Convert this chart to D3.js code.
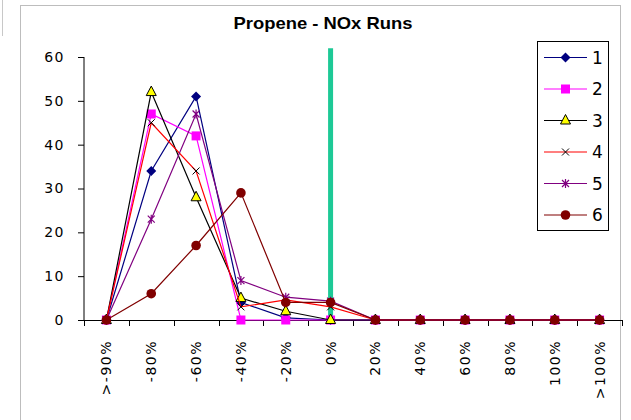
<!DOCTYPE html>
<html><head><meta charset="utf-8">
<script src="https://cdn.jsdelivr.net/npm/d3@7/dist/d3.min.js"></script>
<style>
html,body{margin:0;padding:0;background:#fff;}
svg{display:block;}
</style></head>
<body>
<svg id="chart" width="631" height="420"></svg>
<script>
const categories = [">-90%","-80%","-60%","-40%","-20%","0%","20%","40%","60%","80%","100%",">100%"];
const seriesNames = ["1","2","3","4","5","6"];
const s1 = [0,34,51,4,0.5,0,0,0,0,0,0,0];
const s2 = [0,47,42,0,0,0,0,0,0,0,0,0];
const s3 = [0,52,28,5,2,0,0,0,0,0,0,0];
const s4 = [0,45,34,3,4.6,3,0,0,0,0,0,0];
const s5 = [0,23,47,9,5.2,4.3,0,0,0,0,0,0];
const s6 = [0,6,17,29,4,4,0,0,0,0,0,0];
const yTicks = [0,10,20,30,40,50,60];
const markerCategory = "0%";
const markerLine = [0, 62];
const chartTitle = "Propene - NOx Runs";

const allSeries = [s1,s2,s3,s4,s5,s6];
const styles = [
  {line:"#000080", marker:"diamond", fill:"#000080", stroke:"#000080"},
  {line:"#ff00ff", marker:"square", fill:"#ff00ff", stroke:"#ff00ff"},
  {line:"#000000", marker:"triangle", fill:"#ffff00", stroke:"#000000"},
  {line:"#ff0000", marker:"x", fill:"none", stroke:"#000000"},
  {line:"#800080", marker:"star", fill:"none", stroke:"#800080"},
  {line:"#800000", marker:"circle", fill:"#800000", stroke:"#800000"}
];

const svg = d3.select("#chart");
// outer frame
svg.append("line").attr("x1",2.5).attr("x2",2.5).attr("y1",0).attr("y2",36)
  .attr("stroke","#c8c8c8").attr("stroke-width",1);
svg.append("rect").attr("x",20.5).attr("y",5.5).attr("width",600).attr("height",430)
  .attr("fill","#fff").attr("stroke","#bdbdbd").attr("stroke-width",1);

svg.append("text").attr("x",323).attr("y",29).attr("text-anchor","middle")
  .attr("font-family","Liberation Sans, Arial, sans-serif").attr("font-weight","bold")
  .attr("font-size",17).attr("textLength",179).attr("lengthAdjust","spacingAndGlyphs")
  .text(chartTitle);

const x = d3.scaleBand().domain(categories).range([84,622]);
const y = d3.scaleLinear().domain([0,60]).range([320,57]);
const cx = c => x(c) + x.bandwidth()/2;

// axes
const yAxis = svg.append("g").attr("transform","translate(84,0)")
  .call(d3.axisLeft(y).tickValues(yTicks).tickSize(6).tickPadding(13).tickFormat(d3.format("d")));
yAxis.select(".domain").attr("d", `M-0,${y(60)}V${y(0)}`);
yAxis.selectAll("text").attr("font-family","DejaVu Sans, sans-serif").attr("font-size",14)
  .attr("letter-spacing","1.5px").attr("fill","#000");

const xAxisG = svg.append("g").attr("transform","translate(0,320)");
xAxisG.append("line").attr("x1",84).attr("x2",622).attr("y1",0.5).attr("y2",0.5).attr("stroke","#000");
const bounds = categories.map(c => x(c)).concat([x.range()[1]]);
xAxisG.selectAll("line.tk").data(bounds).enter().append("line").attr("class","tk")
  .attr("x1",d=>Math.round(d)+0.5).attr("x2",d=>Math.round(d)+0.5).attr("y1",0).attr("y2",6).attr("stroke","#000");
xAxisG.selectAll("text").data(categories).enter().append("text")
  .attr("transform", d => `translate(${cx(d)},20) rotate(-90)`)
  .attr("text-anchor","end").attr("dy","0.36em")
  .attr("font-family","DejaVu Sans, sans-serif").attr("font-size",14).attr("letter-spacing","1.5px")
  .text(d => d);

// green reference line at 0%
svg.append("line").attr("x1",cx(markerCategory)).attr("x2",cx(markerCategory))
  .attr("y1",y(markerLine[0])).attr("y2",y(markerLine[1]))
  .attr("stroke","#1dc996").attr("stroke-width",5);

function drawMarker(g, type, px, py, st) {
  if (type === "diamond") {
    g.append("path").attr("d",`M${px},${py-5}L${px+5},${py}L${px},${py+5}L${px-5},${py}Z`).attr("fill",st.fill);
  } else if (type === "square") {
    g.append("rect").attr("x",px-4.5).attr("y",py-4.5).attr("width",9).attr("height",9).attr("fill",st.fill);
  } else if (type === "triangle") {
    g.append("path").attr("d",`M${px},${py-6}L${px+5},${py+3.5}L${px-5},${py+3.5}Z`).attr("fill",st.fill).attr("stroke",st.stroke).attr("stroke-width",1);
  } else if (type === "x") {
    g.append("path").attr("d",`M${px-3.5},${py-3.5}L${px+3.5},${py+3.5}M${px-3.5},${py+3.5}L${px+3.5},${py-3.5}`).attr("stroke",st.stroke).attr("stroke-width",1);
  } else if (type === "star") {
    g.append("path").attr("d",`M${px-3.5},${py-3.5}L${px+3.5},${py+3.5}M${px-3.5},${py+3.5}L${px+3.5},${py-3.5}M${px},${py-4.5}L${px},${py+4.5}`).attr("stroke",st.stroke).attr("stroke-width",1.2);
  } else if (type === "circle") {
    g.append("circle").attr("cx",px).attr("cy",py).attr("r",4.8).attr("fill",st.fill);
  }
}

const line = d3.line().x((d,i)=>cx(categories[i])).y(d=>y(d));
allSeries.forEach((vals, si) => {
  const st = styles[si];
  const g = svg.append("g");
  g.append("path").attr("d", line(vals)).attr("fill","none").attr("stroke",st.line).attr("stroke-width",1.2);
  vals.forEach((v,i) => drawMarker(g, st.marker, cx(categories[i]), y(v), st));
});

// legend
const lg = svg.append("g");
lg.append("rect").attr("x",537.5).attr("y",41.5).attr("width",71).attr("height",189)
  .attr("fill","#fff").attr("stroke","#000").attr("stroke-width",1);
seriesNames.forEach((nm, i) => {
  const ly = 57.5 + i*31.5;
  const st = styles[i];
  lg.append("line").attr("x1",544).attr("x2",587).attr("y1",ly).attr("y2",ly).attr("stroke",st.line).attr("stroke-width",1.2);
  drawMarker(lg, st.marker, 565.5, ly, st);
  lg.append("text").attr("x",592).attr("y",ly).attr("dy","0.36em")
    .attr("font-family","DejaVu Sans, sans-serif").attr("font-size",17).text(nm);
});
</script>
</body></html>
